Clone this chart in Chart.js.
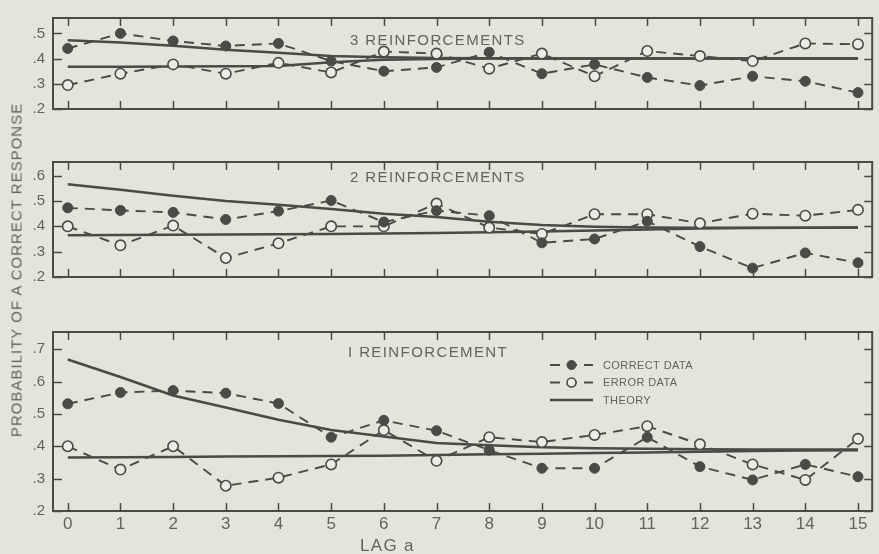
<!DOCTYPE html>
<html>
<head>
<meta charset="utf-8">
<script src="https://cdn.jsdelivr.net/npm/chart.js@4.4.1/dist/chart.umd.min.js"></script>
<style>
  html, body { margin: 0; padding: 0; background: #e4e4da; }
  #wrap { position: relative; width: 879px; height: 554px; overflow: hidden; background: #e4e4da; }
  canvas { position: absolute; left: 0; }
  .t { position: absolute; font-family: 'Liberation Sans', Arial, sans-serif; color: #64645e; white-space: nowrap; line-height: 1; }
</style>
</head>
<body>
<div id="wrap">
  <canvas id="p3" width="879" height="150" style="top:0;width:879px;height:150px"></canvas>
  <canvas id="p2" width="879" height="175" style="top:145px;width:879px;height:175px"></canvas>
  <canvas id="p1" width="879" height="239" style="top:315px;width:879px;height:239px"></canvas>

  <div class="t" style="left:350px;top:32px;font-size:15px;letter-spacing:1.4px">3 REINFORCEMENTS</div>
  <div class="t" style="left:350px;top:169px;font-size:15px;letter-spacing:1.4px">2 REINFORCEMENTS</div>
  <div class="t" style="left:348px;top:344px;font-size:15px;letter-spacing:1.4px">I REINFORCEMENT</div>
  <div class="t" style="left:16px;top:270px;font-size:15px;letter-spacing:1px;transform:translate(-50%,-50%) rotate(-90deg)">PROBABILITY OF A CORRECT RESPONSE</div>
  <div class="t" style="left:360px;top:537px;font-size:17px;letter-spacing:1.3px">LAG a</div>
</div>

<script>
// Lag values on the x axis and their printed labels
const lags = [0, 1, 2, 3, 4, 5, 6, 7, 8, 9, 10, 11, 12, 13, 14, 15];
const xTickLabels = ['0', '1', '2', '3', '4', '5', '6', '7', '8', '9', '10', '11', '12', '13', '14', '15'];

// 3 reinforcements
const correct3 = [0.44, 0.50, 0.47, 0.45, 0.46, 0.39, 0.35, 0.365, 0.425, 0.34, 0.377, 0.325, 0.293, 0.33, 0.31, 0.265];
const error3   = [0.295, 0.34, 0.377, 0.34, 0.383, 0.345, 0.428, 0.42, 0.36, 0.42, 0.33, 0.43, 0.41, 0.39, 0.46, 0.457];
const theoryCorrect3 = [0.473, 0.464, 0.451, 0.435, 0.423, 0.41, 0.405, 0.402, 0.401, 0.40, 0.40, 0.40, 0.40, 0.40, 0.40, 0.40];
const theoryError3   = [0.368, 0.368, 0.369, 0.370, 0.371, 0.385, 0.395, 0.398, 0.40, 0.40, 0.40, 0.40, 0.40, 0.40, 0.40, 0.40];
const yTicks3 = [0.2, 0.3, 0.4, 0.5];

// 2 reinforcements
const correct2 = [0.473, 0.463, 0.455, 0.427, 0.46, 0.502, 0.417, 0.462, 0.442, 0.335, 0.35, 0.42, 0.32, 0.235, 0.295, 0.256];
const error2   = [0.40, 0.325, 0.403, 0.275, 0.333, 0.40, 0.40, 0.49, 0.395, 0.37, 0.448, 0.448, 0.412, 0.45, 0.442, 0.465];
const theoryCorrect2 = [0.566, 0.544, 0.521, 0.50, 0.485, 0.468, 0.45, 0.437, 0.418, 0.405, 0.398, 0.395, 0.394, 0.394, 0.394, 0.395];
const theoryError2   = [0.365, 0.366, 0.367, 0.368, 0.369, 0.37, 0.372, 0.374, 0.377, 0.38, 0.384, 0.388, 0.391, 0.393, 0.394, 0.395];
const yTicks2 = [0.2, 0.3, 0.4, 0.5, 0.6];

// 1 reinforcement
const correct1 = [0.531, 0.566, 0.572, 0.564, 0.532, 0.428, 0.48, 0.448, 0.388, 0.332, 0.332, 0.428, 0.337, 0.296, 0.344, 0.306];
const error1   = [0.40, 0.328, 0.40, 0.278, 0.303, 0.344, 0.45, 0.355, 0.428, 0.413, 0.435, 0.462, 0.406, 0.344, 0.296, 0.423];
const theoryCorrect1 = [0.668, 0.614, 0.557, 0.52, 0.482, 0.45, 0.43, 0.41, 0.403, 0.397, 0.394, 0.392, 0.391, 0.39, 0.39, 0.39];
const theoryError1   = [0.365, 0.366, 0.367, 0.368, 0.369, 0.37, 0.371, 0.373, 0.375, 0.377, 0.379, 0.381, 0.383, 0.385, 0.387, 0.388];
const yTicks1 = [0.2, 0.3, 0.4, 0.5, 0.6, 0.7];

const legendLabels = ['CORRECT DATA', 'ERROR DATA', 'THEORY'];

const ink = '#4a4a46';
const paper = '#ecece4';
const textInk = '#64645e';
const fontFamily = "'Liberation Sans', Arial, sans-serif";

// Frame around each panel plus inward tick marks on all four sides
const frameTicks = {
  id: 'frameTicks',
  afterDatasetsDraw(chart, args, opts) {
    const { ctx, chartArea: a, scales: { x, y } } = chart;
    ctx.save();
    ctx.strokeStyle = ink;
    ctx.lineWidth = 2;
    ctx.strokeRect(a.left, a.top, a.right - a.left, a.bottom - a.top);
    ctx.lineWidth = 1.5;
    ctx.beginPath();
    lags.forEach(v => {
      const px = Math.round(x.getPixelForValue(v)) + 0.5;
      ctx.moveTo(px, a.top); ctx.lineTo(px, a.top + 8);
      ctx.moveTo(px, a.bottom); ctx.lineTo(px, a.bottom - 8);
    });
    opts.yTicks.forEach(v => {
      const py = Math.round(y.getPixelForValue(v)) + 0.5;
      ctx.moveTo(a.left, py); ctx.lineTo(a.left + 9, py);
      ctx.moveTo(a.right, py); ctx.lineTo(a.right - 8, py);
    });
    ctx.stroke();
    ctx.restore();
  }
};

// Key drawn inside the lowest panel, using each series' own styling
const keyBox = {
  id: 'keyBox',
  afterDraw(chart, args, opts) {
    if (!opts.show) return;
    const ctx = chart.ctx;
    const ds = chart.data.datasets;
    const rows = [ds[0], ds[1], ds[2]];
    ctx.save();
    rows.forEach((d, i) => {
      const yy = opts.top + i * opts.step;
      ctx.beginPath();
      ctx.strokeStyle = d.borderColor;
      ctx.lineWidth = d.borderWidth;
      ctx.setLineDash(d.borderDash || []);
      ctx.moveTo(opts.x1, yy);
      ctx.lineTo(opts.x2, yy);
      ctx.stroke();
      ctx.setLineDash([]);
      if (d.pointRadius > 0) {
        const cx = (opts.x1 + opts.x2) / 2;
        ctx.beginPath();
        ctx.arc(cx, yy, 4.5, 0, Math.PI * 2);
        ctx.fillStyle = d.pointBackgroundColor;
        ctx.fill();
        ctx.lineWidth = d.pointBorderWidth;
        ctx.strokeStyle = d.pointBorderColor;
        ctx.stroke();
      }
      ctx.fillStyle = textInk;
      ctx.font = '11px ' + fontFamily;
      ctx.letterSpacing = '0.4px';
      ctx.textBaseline = 'middle';
      ctx.fillText(legendLabels[i], opts.textX, yy + 0.5);
    });
    ctx.restore();
  }
};

function toPoints(vals) {
  return lags.map((l, i) => ({ x: l, y: vals[i] }));
}

function makePanel(id, s) {
  const datasets = [
    {
      data: toPoints(s.correct), borderColor: ink, borderWidth: 1.9, borderDash: [10, 7],
      pointRadius: 5, pointBackgroundColor: ink, pointBorderColor: ink, pointBorderWidth: 1,
      order: 1
    },
    {
      data: toPoints(s.error), borderColor: ink, borderWidth: 1.9, borderDash: [10, 7],
      pointRadius: 5.2, pointBackgroundColor: paper, pointBorderColor: ink, pointBorderWidth: 1.6,
      order: 2
    },
    {
      data: toPoints(s.theoryC), borderColor: ink, borderWidth: 2.5, pointRadius: 0, order: 3
    },
    {
      data: toPoints(s.theoryE), borderColor: ink, borderWidth: 2.5, pointRadius: 0, order: 4
    }
  ];
  return new Chart(document.getElementById(id), {
    type: 'line',
    data: { datasets },
    options: {
      responsive: false,
      animation: false,
      events: [],
      layout: { padding: s.padding },
      plugins: {
        legend: { display: false },
        tooltip: { enabled: false },
        frameTicks: { yTicks: s.yTicks },
        keyBox: s.key || { show: false }
      },
      elements: { line: { tension: 0 } },
      scales: {
        x: {
          type: 'linear',
          min: -0.28, max: 15.27,
          display: s.showX,
          afterBuildTicks: sc => { sc.ticks = lags.map(v => ({ value: v })); },
          afterFit: sc => { sc.height = 30; },
          grid: { display: false, drawTicks: false },
          border: { display: false },
          ticks: {
            autoSkip: false, maxRotation: 0, padding: 3,
            color: textInk,
            font: { family: fontFamily, size: 17 },
            callback: v => xTickLabels[lags.indexOf(v)]
          }
        },
        y: {
          min: 0.2, max: s.yMax,
          afterBuildTicks: sc => { sc.ticks = s.yTicks.map(v => ({ value: v })); },
          afterFit: sc => { sc.width = 53; },
          grid: { display: false, drawTicks: false },
          border: { display: false },
          ticks: {
            padding: 8,
            color: textInk,
            font: { family: fontFamily, size: 15 },
            callback: v => v.toFixed(1).replace(/^0/, '')
          }
        }
      }
    },
    plugins: [frameTicks, keyBox]
  });
}

makePanel('p3', {
  correct: correct3, error: error3, theoryC: theoryCorrect3, theoryE: theoryError3,
  yTicks: yTicks3, yMax: 0.561, showX: false,
  padding: { left: 0, right: 5, top: 18, bottom: 11 }
});
makePanel('p2', {
  correct: correct2, error: error2, theoryC: theoryCorrect2, theoryE: theoryError2,
  yTicks: yTicks2, yMax: 0.654, showX: false,
  padding: { left: 0, right: 5, top: 10, bottom: 13 }
});
makePanel('p1', {
  correct: correct1, error: error1, theoryC: theoryCorrect1, theoryE: theoryError1,
  yTicks: yTicks1, yMax: 0.753, showX: true,
  padding: { left: 0, right: 5, top: 10, bottom: 13 },
  key: { show: true, x1: 550, x2: 593, textX: 603, top: 50, step: 17.5 }
});
</script>
</body>
</html>
